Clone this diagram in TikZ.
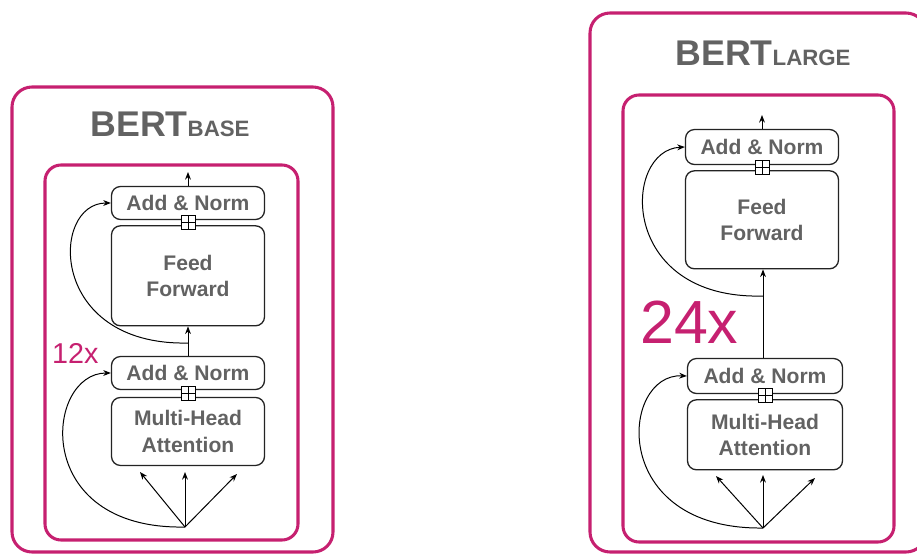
\documentclass[tikz,border=0pt]{standalone}
\usepackage{fontspec}
\setmainfont{Liberation Sans}
\usetikzlibrary{arrows.meta, positioning}
\definecolor{bertpink}{RGB}{198,32,112}
\definecolor{labelgray}{RGB}{98,98,98}
\definecolor{edgegray}{RGB}{35,35,35}
\tikzstyle{frame} = [draw=bertpink, line width=2.6pt, rounded corners=0.6cm]
\tikzstyle{layer} = [draw=bertpink, line width=2.6pt, rounded corners=0.48cm]
\tikzstyle{sublayer} = [rectangle, rounded corners=0.27cm, minimum width=4.59cm, draw=edgegray, line width=1.1pt, text=labelgray, font=\fontsize{18}{22.5}\selectfont\bfseries, align=center, inner sep=0pt]
\tikzstyle{addnorm} = [sublayer, minimum height=1.0cm]
\tikzstyle{plusbox} = [rectangle, draw=black, fill=white, line width=0.8pt, minimum size=0.42cm, inner sep=0pt,
  path picture={\draw[line width=0.7pt] (path picture bounding box.north) -- (path picture bounding box.south)
    (path picture bounding box.west) -- (path picture bounding box.east);}]
\tikzstyle{arrow} = [line width=0.85pt, ->, >={Stealth[length=6.5pt, width=5pt]}]
\tikzstyle{title} = [anchor=base, text=labelgray, font=\fontsize{30.5}{31}\selectfont\bfseries, inner sep=0pt]
\tikzstyle{repeats} = [anchor=base west, text=bertpink, inner sep=0pt]

\begin{document}
\begin{tikzpicture}[x=0.03cm, y=-0.03cm, node distance=0.15cm]
\path[use as bounding box, clip] (0,0) rectangle (917,555);

% BERT base
\draw[frame] (12,87) rectangle (333,552);
\draw[layer] (45,165) rectangle (298,540);
\node (titlel) [title] at (170,136) {BERT{\fontsize{19}{19}\selectfont BASE}};

\node (anl) [addnorm, minimum height=0.99cm] at (188,203) {Add \& Norm};
\node (ffl) [sublayer, minimum height=3.0cm, below=of anl] {Feed\\Forward};
\node (pll) [plusbox] at (188,222) {};
\node (an2l) [addnorm, minimum height=0.99cm] at (188,373) {Add \& Norm};
\node (mhl) [sublayer, minimum height=2.04cm, below=0.2cm of an2l] {Multi-Head\\Attention};
\node (pl2l) [plusbox] at (188,393) {};
\node (repl) [repeats, font=\fontsize{24.5}{25}\selectfont] at (52,363) {12x};

\coordinate (outl) at (188,172);
\coordinate (jl) at (188,343);
\coordinate (inl) at (185,527);
\coordinate (ql) at (140,472);
\coordinate (kl) at (185,472);
\coordinate (vl) at (237,474);

\draw [arrow] (anl) -- (outl);
\draw [arrow] (an2l) -- (ffl);
\draw [arrow] (jl) .. controls (48,346) and (50,203) .. (anl.west);
\draw [arrow] (inl) -- (ql);
\draw [arrow] (inl) -- (kl);
\draw [arrow] (inl) -- (vl);
\draw [arrow] (inl) .. controls (30,530) and (45,373) .. (an2l.west);

% BERT large
\draw[frame] (590,13) rectangle (926,552);
\draw[layer] (623,95) rectangle (894,542);
\node (titler) [title] at (763,65) {BERT{\fontsize{19}{19}\selectfont LARGE}};

\node (anr) [addnorm, minimum height=1.05cm] at (762,147) {Add \& Norm};
\node (ffr) [sublayer, minimum height=2.94cm, below=of anr] {Feed\\Forward};
\node (plr) [plusbox] at (762,167) {};
\node (an2r) [addnorm, minimum width=4.65cm, minimum height=1.05cm] at (765,376) {Add \& Norm};
\node (mhr) [sublayer, minimum width=4.65cm, minimum height=2.1cm, below=0.15cm of an2r] {Multi-Head\\Attention};
\node (pl2r) [plusbox] at (765,395) {};
\node (repr) [repeats, font=\fontsize{52}{52}\selectfont] at (640,343) {24x};

\coordinate (outr) at (762,115);
\coordinate (jr) at (763,296);
\coordinate (inr) at (763,528);
\coordinate (qr) at (716,476);
\coordinate (kr) at (763,475);
\coordinate (vr) at (815,478);

\draw [arrow] (anr) -- (outr);
\draw [arrow] (an2r.north -| jr) -- (ffr.south -| jr);
\draw [arrow] (jr) .. controls (618,300) and (622,150) .. (anr.west);
\draw [arrow] (inr) -- (qr);
\draw [arrow] (inr) -- (kr);
\draw [arrow] (inr) -- (vr);
\draw [arrow] (inr) .. controls (608,530) and (620,373) .. (an2r.west);
\end{tikzpicture}
\end{document}
